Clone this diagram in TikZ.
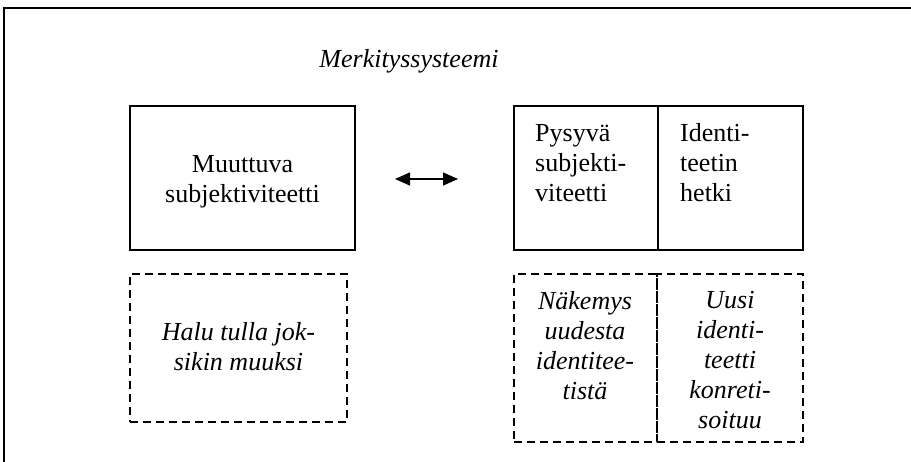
\documentclass[tikz,border=0pt]{standalone}
\usepackage{fontspec}
\setmainfont{Liberation Serif}
\usetikzlibrary{arrows.meta}
% stacked lines of text whose baseline is that of the first line
\newcommand{\txtlines}[2]{\begin{tabular}[t]{@{}#1@{}}#2\end{tabular}}
\begin{document}
\begin{tikzpicture}[x=1pt,y=-1pt,
  frame/.style={line width=2.2pt},
  solidbox/.style={draw, line width=1.5pt, inner sep=0pt},
  dashbox/.style={draw, line width=1.5pt, dash pattern=on 8pt off 5pt, inner sep=0pt},
  txt/.style={inner sep=0pt, font=\fontsize{26}{30}\selectfont},
  itxt/.style={txt, font=\fontsize{26}{30}\selectfont\itshape},
  twohead/.style={line width=1.4pt,
    {Triangle[length=15pt,width=13pt]}-{Triangle[length=15pt,width=13pt]}}]
\useasboundingbox (0,0) rectangle (911,461);

% outer frame, running off the right and bottom edges
\draw[frame] (4,470) -- (4,8) -- (920,8);

% heading
\node[itxt, anchor=base] (title) at (409,67) {Merkityssysteemi};

% upper row: solid boxes
\node[solidbox, minimum width=225pt, minimum height=144pt] (muut) at (242.5,178) {};
\node[solidbox, minimum width=144pt, minimum height=144pt] (pysy) at (586,178) {};
\node[solidbox, minimum width=145pt, minimum height=144pt] (iden) at (730.5,178) {};

\node[txt, anchor=base] (muutT) at (242.5,172) {\txtlines{c}{Muuttuva\\subjektiviteetti}};
\node[txt, anchor=base west] (pysyT) at (535,141) {\txtlines{l}{Pysyvä\\subjekti-\\viteetti}};
\node[txt, anchor=base west] (idenT) at (680,141) {\txtlines{l}{Identi-\\teetin\\hetki}};

% two-headed arrow between the upper boxes
\coordinate (arrL) at (395,179);
\coordinate (arrR) at (458,179);
\draw[twohead] (arrL) -- (arrR);

% lower row: dashed boxes
\node[dashbox, minimum width=217pt, minimum height=148pt] (halu) at (238.5,348) {};
\node[dashbox, minimum width=143pt, minimum height=168pt] (nake) at (585.5,358) {};
\node[dashbox, minimum width=146pt, minimum height=168pt] (uusi) at (730,358) {};

\node[itxt, anchor=base] (haluT) at (238.5,340) {\txtlines{c}{Halu tulla jok-\\sikin muuksi}};
\node[itxt, anchor=base] (nakeT) at (585,309) {\txtlines{c}{Näkemys\\uudesta\\identitee-\\tistä}};
\node[itxt, anchor=base] (uusiT) at (730,308) {\txtlines{c}{Uusi\\identi-\\teetti\\konreti-\\soituu}};
\end{tikzpicture}
\end{document}
